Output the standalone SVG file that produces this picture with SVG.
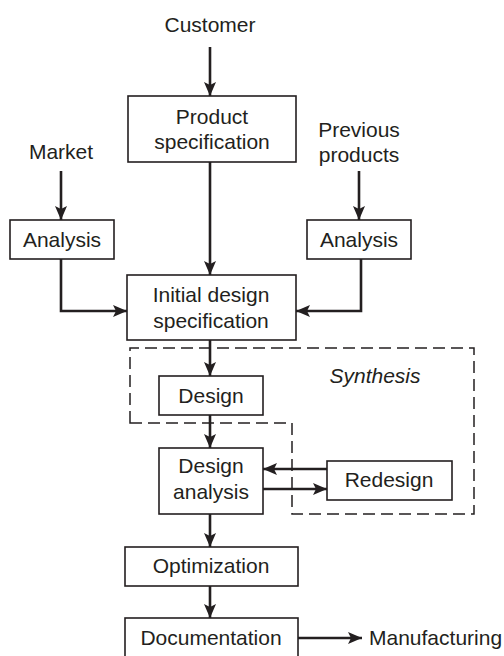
<svg xmlns="http://www.w3.org/2000/svg" width="504" height="656" viewBox="0 0 504 656">
<defs>
<marker id="ah" markerUnits="userSpaceOnUse" markerWidth="15" markerHeight="12" refX="14" refY="6" orient="auto">
<path d="M0,0 L14,6 L0,12 L3,6 Z" fill="#231f20"/>
</marker>
<style>
rect.n{fill:#fff;stroke:#231f20;stroke-width:1.6}
text{font-family:"Liberation Sans",Arial,sans-serif;font-size:21px;fill:#231f20;text-anchor:middle}
.c path,.c line{fill:none;stroke:#231f20;stroke-width:2.6}
.dash{fill:none;stroke:#231f20;stroke-width:1.5;stroke-dasharray:12,6}
</style>
</defs>
<rect width="504" height="656" fill="#fff"/>
<path class="dash" d="M130,423 L130,348 L474,348 L474,514 L292,514 L292,423 Z"/>
<text x="375" y="383" font-style="italic">Synthesis</text>
<g id="customer"><text x="210" y="32">Customer</text></g>
<g id="market"><text x="61" y="159">Market</text></g>
<g id="previous"><text x="359" y="137">Previous</text><text x="359" y="162">products</text></g>
<g id="product-spec"><rect class="n" x="128" y="96" width="168" height="66"/><text x="212" y="124">Product</text><text x="212" y="149">specification</text></g>
<g id="analysis-left"><rect class="n" x="10" y="220" width="104" height="39"/><text x="62" y="247">Analysis</text></g>
<g id="analysis-right"><rect class="n" x="307" y="220" width="104" height="39"/><text x="359" y="247">Analysis</text></g>
<g id="initial-spec"><rect class="n" x="127" y="275" width="169" height="65"/><text x="211" y="302">Initial design</text><text x="211" y="328">specification</text></g>
<g id="design"><rect class="n" x="159" y="376" width="104" height="39"/><text x="211" y="403">Design</text></g>
<g id="design-analysis"><rect class="n" x="159" y="448" width="104" height="66"/><text x="211" y="473">Design</text><text x="211" y="499">analysis</text></g>
<g id="redesign"><rect class="n" x="327" y="461" width="125" height="39"/><text x="389" y="487">Redesign</text></g>
<g id="optimization"><rect class="n" x="125" y="547" width="173" height="39"/><text x="211" y="573">Optimization</text></g>
<g id="documentation"><rect class="n" x="125" y="618" width="173" height="44"/><text x="211" y="645">Documentation</text></g>
<g id="manufacturing"><text x="369" y="645" style="text-anchor:start">Manufacturing</text></g>
<g class="c">
<line x1="210" y1="47" x2="210" y2="96" marker-end="url(#ah)"/>
<line x1="61" y1="171" x2="61" y2="220" marker-end="url(#ah)"/>
<line x1="359" y1="171" x2="359" y2="220" marker-end="url(#ah)"/>
<line x1="210" y1="162" x2="210" y2="275" marker-end="url(#ah)"/>
<path d="M61,259 L61,311 L127,311" marker-end="url(#ah)"/>
<path d="M361,259 L361,311 L296,311" marker-end="url(#ah)"/>
<line x1="210" y1="340" x2="210" y2="376" marker-end="url(#ah)"/>
<line x1="210" y1="415" x2="210" y2="448" marker-end="url(#ah)"/>
<line x1="327" y1="469" x2="263" y2="469" marker-end="url(#ah)"/>
<line x1="263" y1="489" x2="327" y2="489" marker-end="url(#ah)"/>
<line x1="210" y1="514" x2="210" y2="547" marker-end="url(#ah)"/>
<line x1="210" y1="586" x2="210" y2="618" marker-end="url(#ah)"/>
<line x1="298" y1="638" x2="362" y2="638" marker-end="url(#ah)"/>
</g>
</svg>
